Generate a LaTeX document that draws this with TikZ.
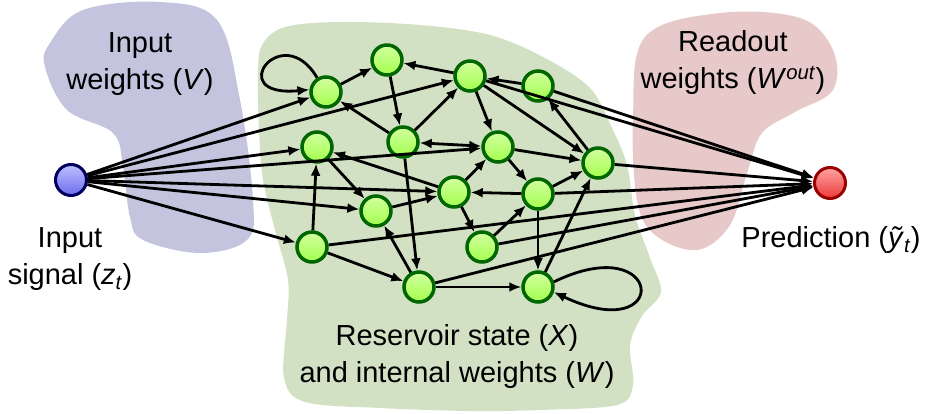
\documentclass[tikz,border=0pt]{standalone}
\usepackage{fontspec}
\setmainfont{Liberation Sans}
\usetikzlibrary{arrows.meta}

\definecolor{blobblue}{HTML}{C4C4DE}
\definecolor{blobgreen}{HTML}{D2E1C4}
\definecolor{blobpink}{HTML}{E8C9C9}
\definecolor{cellrim}{HTML}{006600}
\definecolor{cellhi}{HTML}{D2FFA0}
\definecolor{celllo}{HTML}{A2FF4C}
\definecolor{inrim}{HTML}{00005C}
\definecolor{inhi}{HTML}{C0C0FF}
\definecolor{inlo}{HTML}{6C6CF0}
\definecolor{outrim}{HTML}{990000}
\definecolor{outhi}{HTML}{FFA3A3}
\definecolor{outlo}{HTML}{EE3A3A}

\tikzset{
  cell/.style={circle, minimum size=30pt, inner sep=0pt, line width=3.5pt,
    draw=cellrim, top color=cellhi, bottom color=celllo},
  innode/.style={circle, minimum size=31pt, inner sep=0pt, line width=3pt,
    draw=inrim, top color=inhi, bottom color=inlo},
  outnode/.style={circle, minimum size=31pt, inner sep=0pt, line width=3pt,
    draw=outrim, top color=outhi, bottom color=outlo},
  arr/.style={-{Latex[length=12pt,width=10pt]}, line width=2.8pt},
  biarr/.style={{Latex[length=12pt,width=10pt]}-{Latex[length=12pt,width=10pt]}, line width=2.8pt},
  caption/.style={align=center, font=\fontsize{29}{37}\selectfont, inner sep=0pt},
}

\begin{document}
\begin{tikzpicture}[x=1pt,y=-1pt]
\useasboundingbox (0,0) rectangle (930,414);

% background regions
\fill[blobblue] plot[smooth cycle, tension=0.6] coordinates {
  (160,2) (217,20) (240,100) (253,200) (247,240) (200,253) (143,240)
  (130,217) (123,167) (113,133) (67,110) (45,67) (50,43) (83,10)};
\fill[blobpink] plot[smooth cycle, tension=0.6] coordinates {
  (720,13) (800,18) (833,50) (833,90) (795,112) (762,133) (748,170)
  (730,225) (697,250) (655,235) (637,200) (633,117) (645,37)};
\fill[blobgreen] plot[smooth cycle, tension=0.55] coordinates {
  (258,75) (262,45) (285,27) (340,22) (420,25) (490,35) (545,58)
  (590,88) (612,128) (627,165) (635,215) (650,258) (661,292) (642,316)
  (630,345) (633,385) (617,405) (540,410) (470,411) (380,408) (305,402)
  (284,378) (287,320) (288,280) (275,230) (263,180) (259,130)};

% labels
\node[caption] (lblin) at (140,64) {Input\\weights (\textit{V})};
\node[caption] (lblsig) at (70,259) {Input\\signal (\textit{z}\textsubscript{\textit{t}})};
\node[caption] (lblout) at (733,63) {Readout\\weights (\textit{W}\textsuperscript{\textit{out}})};
\node[caption] (lblpred) at (831,240) {Prediction (\textit{ỹ}\textsubscript{\textit{t}})};
\node[caption] (lblres) at (457,357) {Reservoir state (\textit{X})\\and internal weights (\textit{W})};

% input and output units
\node[innode] (in) at (71,180) {};
\node[outnode] (out) at (830,183) {};

% reservoir units
\node[cell] (n1) at (326,92) {};
\node[cell] (n2) at (387,60) {};
\node[cell] (n3) at (470,76) {};
\node[cell] (n4) at (538,86) {};
\node[cell] (n5) at (403,142) {};
\node[cell] (n6) at (317,147) {};
\node[cell] (n7) at (498,147) {};
\node[cell] (n8) at (598,163) {};
\node[cell] (n9) at (454,192) {};
\node[cell] (n10) at (538,194) {};
\node[cell] (n11) at (376,211) {};
\node[cell] (n12) at (312,247) {};
\node[cell] (n13) at (482,247) {};
\node[cell] (n14) at (419,287) {};
\node[cell] (n15) at (538,287) {};

% input weights
\foreach \t in {n1,n3,n6,n7,n9,n11,n12}
  \draw[arr] (in) -- (\t);

% readout weights
\foreach \s in {n3,n4,n8,n10,n12,n13,n14}
  \draw[arr] (\s) -- (out);

% internal connections
\draw[arr] (n1) -- (n2);
\draw[arr] (n2) -- (n5);
\draw[arr] (n3) -- (n2);
\draw[arr] (n4) -- (n3);
\draw[arr] (n5) -- (n1);
\draw[arr] (n5) -- (n3);
\draw[biarr] (n5) -- (n7);
\draw[arr] (n5) -- (n14);
\draw[arr] (n3) -- (n7);
\draw[arr] (n3) -- (n8);
\draw[arr] (n8) -- (n4);
\draw[arr] (n7) -- (n8);
\draw[arr] (n7) -- (n10);
\draw[arr] (n9) -- (n6);
\draw[arr] (n9) -- (n7);
\draw[arr] (n6) -- (n11);
\draw[arr] (n9) -- (n13);
\draw[arr] (n10) -- (n8);
\draw[arr] (n10) -- (n9);
\draw[arr] (n10) -- (n15);
\draw[arr] (n11) -- (n9);
\draw[arr] (n12) -- (n6);
\draw[arr] (n12) -- (n14);
\draw[arr] (n13) -- (n10);
\draw[arr] (n14) -- (n11);
\draw[arr] (n14) -- (n15);
\draw[arr] (n15) -- (n8);

% self-connections
\draw[arr] (n1.122) .. controls (282,18) and (222,98) .. (n1.172);
\draw[arr] (n15.18) .. controls (665,228) and (672,348) .. (n15.-18);
\end{tikzpicture}
\end{document}
